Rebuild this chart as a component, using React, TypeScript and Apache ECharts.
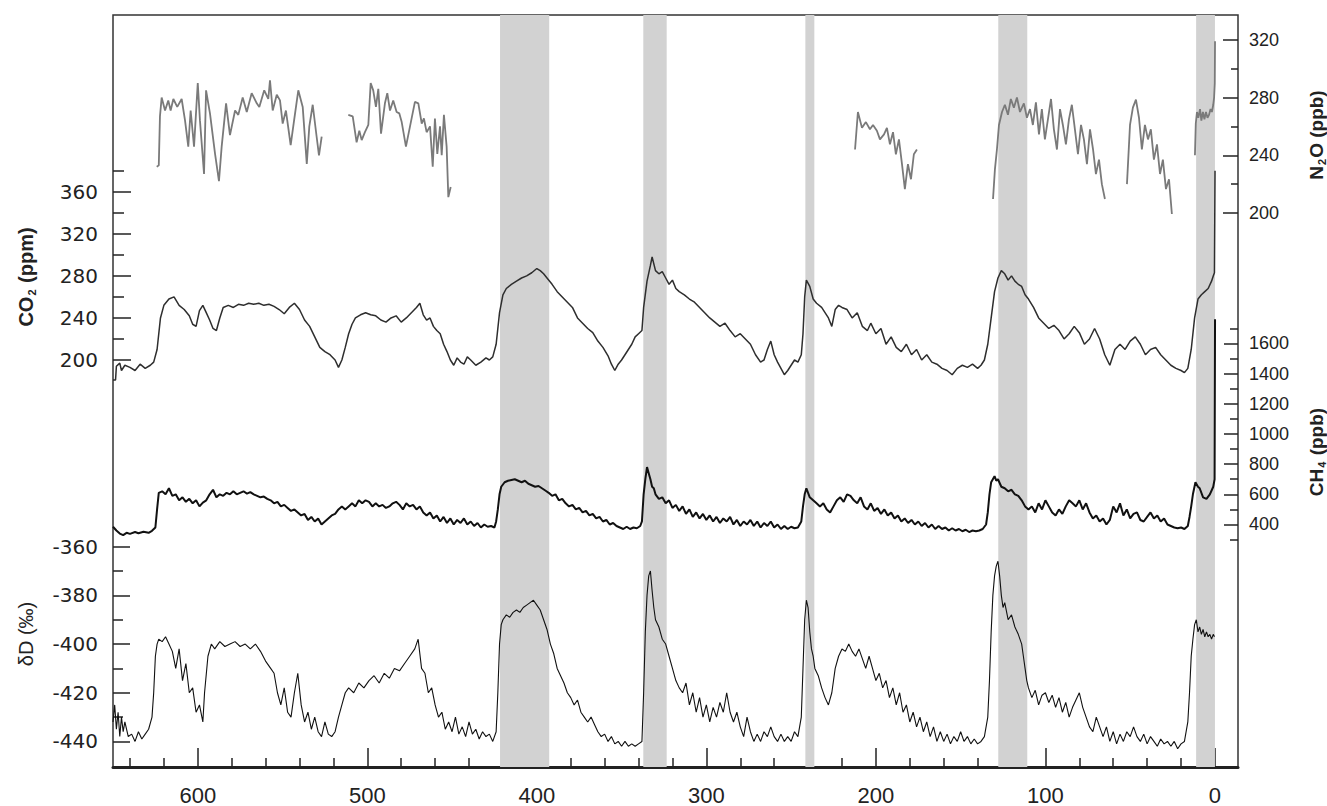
import React, { useEffect, useRef } from "react";
import * as echarts from "echarts";

// ---- tick values ----
const xMajor = [0, 100, 200, 300, 400, 500, 600];
const xMinor = [20, 40, 60, 80, 120, 140, 160, 180, 220, 240, 260, 280, 320, 340, 360, 380, 420, 440, 460, 480, 520, 540, 560, 580, 620, 640];
const co2Major = [200, 240, 280, 320, 360];
const co2Minor = [220, 260, 300, 340, 380];
const dDMajor = [-440, -420, -400, -380, -360];
const dDMinor = [-430, -410, -390, -370];
const n2oMajor = [200, 240, 280, 320];
const n2oMinor = [220, 260, 300];
const ch4Major = [400, 600, 800, 1000, 1200, 1400, 1600];
const ch4Minor = [300, 500, 700, 900, 1100, 1300, 1500, 1700];

// ---- interglacial bands (kyr BP) ----
const bands: [number, number][] = [
  [421.7, 392.7],
  [337.2, 323.4],
  [241.6, 236.3],
  [127.8, 110.7],
  [11.1, 0],
];

// ---- CO2 (ppm) ----
const co2Data: [number, number][] = [
  [650,181],[648.5,181],[648,194],[646,197],[645,190],[643,195],[640,193],[637,190],[634,196],[631,192],[628,195],[626,198],[624,210],[622,240],[620,252],[617,258],[614,260],[611,252],[608,248],[605,242],[603,234],[601,232],[599,247],[597,252],[595,245],[593,238],[591,230],[589,228],[587,240],[585,250],[582,252],[579,250],[576,253],[573,252],[570,254],[567,253],[564,254],[561,252],[558,253],[555,251],[552,248],[549,244],[546,250],[543,254],[540,248],[537,238],[534,232],[531,222],[528,212],[525,208],[522,205],[519,200],[517,193],[515,200],[513,212],[511,225],[509,234],[507,240],[504,243],[501,245],[498,243],[495,242],[492,238],[489,236],[486,240],[483,242],[480,236],[477,240],[474,245],[471,250],[469,254],[467,243],[465,238],[463,240],[461,232],[459,228],[457,225],[455,215],[453,208],[451,200],[449,195],[447,202],[445,198],[443,196],[441,203],[439,200],[436,195],[433,198],[430,202],[428,200],[426,203],[424,215],[422,245],[420,262],[418,268],[415,272],[412,275],[409,278],[406,280],[403,283],[400,287],[398,285],[396,282],[394,278],[391,272],[388,265],[385,260],[382,255],[379,250],[376,240],[373,235],[370,230],[367,226],[364,218],[361,212],[358,204],[356,196],[354,190],[352,196],[350,200],[348,205],[346,210],[344,215],[342,222],[340,225],[338,228],[337,250],[335,275],[333,290],[332,298],[330,285],[328,282],[326,284],[324,278],[322,272],[320,276],[318,268],[316,265],[313,262],[310,258],[307,255],[304,250],[301,245],[298,240],[295,236],[292,232],[289,235],[286,228],[283,222],[280,225],[277,220],[274,215],[271,205],[268,198],[266,200],[264,210],[262,218],[260,205],[258,198],[256,192],[254,186],[252,190],[250,195],[248,200],[246,198],[244,205],[243,225],[242,260],[241,276],[239,270],[237,258],[235,254],[232,250],[230,245],[228,240],[226,232],[224,248],[222,252],[220,250],[217,248],[214,240],[211,245],[208,232],[205,228],[203,235],[200,225],[197,230],[194,215],[191,222],[188,212],[185,208],[182,215],[179,205],[176,210],[173,200],[170,205],[167,198],[164,196],[161,192],[158,190],[155,186],[152,192],[149,195],[146,193],[143,196],[140,192],[138,195],[136,200],[134,215],[132,240],[130,265],[128,278],[126,285],[124,282],[122,276],[120,280],[118,275],[116,272],[114,270],[112,262],[110,258],[107,250],[104,240],[101,235],[98,230],[95,233],[92,228],[89,220],[86,225],[83,232],[80,226],[77,215],[74,220],[71,230],[68,220],[65,205],[62,195],[59,210],[56,215],[53,210],[50,218],[47,222],[44,215],[41,205],[38,210],[35,212],[32,205],[29,200],[26,195],[23,192],[20,190],[18,188],[16,192],[14,210],[12,240],[10,258],[8,262],[6,265],[4,268],[2,275],[1,280],[0.3,283],[-0.05,380]
];

// ---- CH4 (ppb) ----
const ch4Data: [number, number][] = [
  [650,385],[648,360],[646,340],[644,330],[642,345],[640,338],[637,350],[635,342],[632,352],[629,345],[627,358],[625,380],[624,500],[623,610],[621,620],[619,600],[617,640],[615,590],[613,600],[611,560],[609,580],[607,550],[605,570],[603,540],[601,560],[599,520],[597,545],[595,560],[593,600],[591,630],[589,580],[587,600],[585,590],[583,610],[581,600],[579,620],[577,600],[575,610],[573,620],[571,605],[569,615],[567,600],[565,590],[563,580],[561,585],[559,570],[557,560],[555,540],[553,550],[551,520],[549,530],[547,510],[545,490],[543,500],[541,480],[539,460],[537,470],[535,430],[533,450],[531,420],[529,440],[527,400],[525,420],[523,440],[521,460],[519,470],[517,500],[515,520],[513,500],[511,520],[509,540],[507,520],[505,560],[503,540],[501,560],[499,550],[497,520],[495,540],[493,520],[491,530],[489,510],[487,520],[485,540],[483,550],[481,530],[479,500],[477,540],[475,520],[473,530],[471,500],[469,520],[467,480],[465,460],[463,480],[461,440],[459,460],[457,420],[455,450],[453,410],[451,440],[449,400],[447,430],[445,410],[443,440],[441,400],[439,420],[437,390],[435,410],[433,380],[431,400],[429,385],[427,390],[425,380],[424,420],[423,500],[422,600],[421,650],[419,680],[417,690],[415,695],[413,700],[411,690],[409,680],[407,690],[405,670],[403,660],[401,650],[399,655],[397,640],[395,625],[393,610],[391,590],[389,600],[387,560],[385,570],[383,540],[381,520],[379,530],[377,500],[375,510],[373,480],[371,490],[369,460],[367,470],[365,440],[363,450],[361,420],[359,430],[357,400],[355,410],[353,390],[351,380],[349,370],[347,385],[345,370],[343,380],[341,375],[339,390],[338,420],[337,600],[336,700],[335,780],[334,740],[333,700],[332,650],[331,640],[330,600],[328,570],[326,580],[324,540],[322,560],[320,510],[318,530],[316,490],[314,520],[312,470],[310,500],[308,450],[306,480],[304,440],[302,470],[300,430],[298,460],[296,420],[294,450],[292,410],[290,440],[288,420],[286,450],[284,400],[282,430],[280,390],[278,420],[276,400],[274,430],[272,390],[270,420],[268,380],[266,410],[264,390],[262,420],[260,380],[258,400],[256,370],[254,390],[252,370],[250,385],[248,375],[246,380],[244,420],[243,520],[242,600],[241,640],[240,610],[239,580],[237,560],[235,540],[233,520],[231,540],[229,500],[227,480],[225,520],[223,560],[221,580],[219,550],[217,600],[215,590],[213,560],[211,540],[209,580],[207,520],[205,500],[203,540],[201,490],[199,510],[197,470],[195,500],[193,460],[191,480],[189,440],[187,460],[185,420],[183,440],[181,410],[179,430],[177,400],[175,420],[173,390],[171,410],[169,380],[167,400],[165,370],[163,390],[161,370],[159,380],[157,360],[155,375],[153,360],[151,370],[149,355],[147,365],[145,350],[143,360],[141,355],[139,360],[137,370],[135,400],[134,480],[133,600],[132,680],[131,700],[130,720],[129,690],[128,700],[126,650],[124,640],[122,620],[120,630],[118,600],[116,590],[114,560],[112,520],[110,500],[108,520],[106,480],[104,540],[102,500],[100,560],[98,520],[96,480],[94,460],[92,500],[90,470],[88,520],[86,560],[84,540],[82,520],[80,560],[78,500],[76,540],[74,480],[72,440],[70,460],[68,420],[66,440],[64,400],[62,430],[60,520],[58,480],[56,540],[54,460],[52,500],[50,440],[48,470],[46,480],[44,430],[42,420],[40,450],[38,480],[36,440],[34,460],[32,420],[30,440],[28,400],[26,390],[24,380],[22,375],[20,380],[18,370],[16,390],[15,450],[14,520],[13,600],[11.5,680],[10,650],[9,640],[7,580],[5,570],[3,600],[1,650],[0.2,700],[-0.05,1760]
];

// ---- N2O (ppb), separate measured segments ----
const n2oSegA: [number, number][] = [
  [624.2,232],[623.0,233],[622.3,267],[621.3,280],[619.3,271],[617.4,278],[616,271],[614.4,279],[612.1,273.5],[609.5,279],[607.5,264],[605.6,246],[604.2,271],[602.2,246],[600,290],[598.7,264],[596.3,227],[595.1,285],[592.8,269],[589.8,241],[587.5,222],[585.9,246],[583.3,276],[581,254],[578,271],[576.1,268],[573.5,280],[571.1,270],[568.2,283],[565.2,276],[563.7,273.5],[560.8,285],[558.4,279],[557.4,292],[555.8,271],[553.4,282],[551.5,278],[549.9,262],[548,271],[545.2,247],[543.2,264],[540.7,285],[538.1,273.5],[535.7,234],[534.2,260],[532.2,275],[529.9,253],[528.5,240],[526.9,253]
];
const n2oSegB: [number, number][] = [
  [511.2,268],[508.6,267],[506.3,249],[504.7,257],[503.3,250.5],[501.4,256],[499.4,261],[498,290],[496.5,285],[494.9,273.5],[493.5,286],[491.9,255],[489.6,276],[488.2,283],[486.6,271],[484.7,278],[482.7,270],[481.1,269],[479.7,263],[477.2,246],[474.8,260],[471.9,277],[469.9,276],[467.9,262],[466.6,265.5],[465,256],[463,260],[461.4,232],[460.1,265.5],[458.7,241],[457.1,260],[456.1,240],[454.8,268],[453.2,246],[452.2,211],[450.8,218]
];
const n2oSegC: [number, number][] = [
  [212.3,244],[210.6,270],[208.2,259],[205.9,263],[203.5,258],[201.7,261],[199.4,257],[197.6,251],[195.2,254.5],[193.5,259],[191.7,247.6],[189.9,256],[188.2,240.7],[186.4,251],[184.6,233.8],[182.9,216.6],[181.1,233.8],[179.3,223.4],[177.6,240.7],[175.8,244]
];
const n2oSegD: [number, number][] = [
  [130.9,209.7],[129.8,230],[128.6,244],[127.4,261],[125.6,270],[123.9,275],[122.1,268],[120.4,279],[118.6,273],[116.8,280],[115,270],[112.7,276],[110.9,266],[109.1,272],[107.4,261],[105.6,276.6],[103.8,254.5],[102.1,272],[100.3,251],[98.5,265],[96.7,279],[95,258],[93.2,244],[91.4,272],[89.7,261],[87.9,247.6],[86.1,265],[84.4,275],[82.6,258],[80.8,240.7],[79,261],[77.3,251],[75.5,233.8],[73.7,258],[71.9,244],[70.2,227],[68.4,237],[66.7,220],[64.9,209.7]
];
const n2oSegE: [number, number][] = [
  [51.9,220],[50.1,261],[48.4,273],[46.6,278.6],[44.8,266],[43.1,244],[41.3,261],[39.5,251],[37.8,258],[36,237],[34.2,247.6],[32.4,227],[30.7,237],[28.9,216.6],[27.1,223.4],[25.4,199.3]
];
const n2oSegF: [number, number][] = [
  [11.8,240],[11.3,262],[10.6,270],[9.8,266],[8.8,272],[8,264],[7.1,270],[6.2,265],[5.3,270],[4.4,266],[3.5,268],[2.6,272],[1.8,270],[1,275],[0.5,280],[0.1,290],[-0.05,319]
];

// ---- deltaD (permil) ----
const dDData: [number, number][] = [
  [650,-432],[649,-425],[648,-435],[647,-428],[646,-438],[645,-430],[644,-436],[643,-432],[641,-438],[639,-437],[637,-440],[635,-436],[633,-439],[631,-437],[629,-435],[627,-430],[626,-420],[625,-405],[624,-400],[623,-398],[621,-399],[619,-397],[617,-400],[615,-403],[613,-410],[611,-402],[609,-415],[607,-408],[605,-420],[603,-418],[601,-428],[599,-425],[597,-432],[596,-420],[594,-405],[592,-400],[590,-402],[587,-399],[584,-401],[581,-400],[578,-399],[575,-401],[572,-400],[569,-402],[566,-400],[563,-403],[560,-407],[557,-410],[555,-412],[553,-420],[551,-425],[549,-418],[547,-428],[545,-430],[543,-420],[541,-412],[539,-425],[537,-432],[535,-428],[533,-435],[531,-430],[529,-436],[527,-438],[525,-432],[523,-437],[521,-438],[519,-436],[517,-430],[515,-425],[513,-420],[511,-418],[508,-420],[505,-416],[502,-418],[499,-415],[496,-413],[493,-416],[490,-412],[487,-414],[484,-410],[481,-411],[478,-408],[475,-405],[472,-402],[470,-398],[468,-410],[466,-412],[464,-420],[462,-418],[460,-425],[458,-430],[456,-428],[454,-435],[452,-432],[450,-436],[448,-430],[446,-437],[444,-434],[442,-438],[440,-432],[438,-437],[436,-435],[434,-439],[432,-436],[430,-438],[428,-437],[426,-440],[424,-436],[423,-420],[422,-400],[421,-392],[420,-390],[418,-388],[416,-389],[414,-387],[412,-386],[410,-387],[408,-385],[406,-384],[404,-383],[402,-382],[400,-384],[398,-386],[396,-390],[394,-394],[392,-400],[390,-404],[388,-410],[386,-413],[384,-416],[382,-420],[380,-422],[378,-425],[376,-423],[374,-428],[372,-430],[370,-432],[368,-430],[366,-433],[364,-436],[362,-438],[360,-437],[358,-440],[356,-438],[354,-441],[352,-440],[350,-442],[348,-440],[346,-442],[344,-441],[342,-442],[340,-441],[338,-440],[337,-420],[336,-395],[335,-380],[334,-372],[333,-370],[332,-378],[331,-385],[330,-390],[328,-393],[326,-398],[324,-400],[322,-405],[320,-410],[318,-415],[316,-418],[314,-420],[312,-416],[310,-425],[308,-420],[306,-428],[304,-422],[302,-430],[300,-425],[298,-432],[296,-426],[294,-430],[292,-424],[290,-428],[288,-420],[286,-428],[284,-432],[282,-428],[280,-434],[278,-438],[276,-430],[274,-436],[272,-440],[270,-437],[268,-440],[266,-436],[264,-438],[262,-434],[260,-438],[258,-440],[256,-437],[254,-440],[252,-438],[250,-440],[248,-436],[246,-438],[244,-430],[243,-410],[242,-390],[241,-382],[240,-385],[239,-395],[238,-402],[237,-405],[236,-410],[234,-413],[232,-418],[230,-422],[228,-425],[226,-420],[224,-410],[222,-405],[220,-402],[218,-403],[216,-400],[214,-403],[212,-405],[210,-402],[208,-406],[206,-410],[204,-405],[202,-410],[200,-415],[198,-412],[196,-418],[194,-415],[192,-422],[190,-418],[188,-425],[186,-420],[184,-428],[182,-425],[180,-432],[178,-428],[176,-434],[174,-430],[172,-436],[170,-432],[168,-438],[166,-434],[164,-440],[162,-436],[160,-440],[158,-437],[156,-441],[154,-438],[152,-440],[150,-436],[148,-440],[146,-438],[144,-441],[142,-439],[140,-441],[138,-440],[136,-438],[134,-430],[133,-415],[132,-395],[131,-380],[130,-372],[129,-368],[128,-366],[127,-372],[126,-380],[125,-385],[124,-383],[122,-390],[120,-388],[118,-393],[116,-396],[114,-400],[113,-405],[112,-410],[111,-415],[110,-418],[108,-422],[106,-419],[104,-425],[102,-421],[100,-420],[98,-424],[96,-421],[94,-426],[92,-422],[90,-428],[88,-424],[86,-430],[84,-426],[82,-423],[80,-420],[78,-426],[76,-430],[74,-434],[72,-436],[70,-430],[68,-434],[66,-438],[64,-434],[62,-440],[60,-436],[58,-441],[56,-437],[54,-440],[52,-436],[50,-438],[48,-434],[46,-438],[44,-440],[42,-437],[40,-441],[38,-438],[36,-440],[34,-442],[32,-439],[30,-441],[28,-440],[26,-442],[24,-440],[22,-443],[20,-441],[18,-440],[16,-432],[15,-420],[14,-405],[13,-398],[12,-392],[11,-390],[10,-395],[9,-393],[8,-396],[7,-394],[6,-397],[5,-395],[4,-397],[3,-396],[2,-398],[1,-396],[0.3,-397]
];

const FONT = "Liberation Sans, Arial, sans-serif";

function tickAxis(
  kind: "x" | "y",
  pos: string,
  min: number,
  max: number,
  ticks: number[],
  len: number,
  labels: boolean,
  extra: any = {}
) {
  const lineCfg = extra.line || { show: false };
  return {
    type: "value",
    position: pos,
    offset: 0,
    min,
    max,
    inverse: kind === "x",
    splitLine: { show: false },
    axisLine: { onZero: false, ...lineCfg },
    axisTick: {
      show: true,
      inside: true,
      length: len,
      customValues: ticks,
      lineStyle: { color: "#222", width: 1.5 },
    },
    axisLabel: labels
      ? {
          show: true,
          customValues: ticks,
          color: "#222",
          fontFamily: FONT,
          formatter: (v: number) => String(v),
          ...extra.label,
        }
      : { show: false },
  };
}

const lineSeries = (data: [number, number][], yIdx: number, color: string, width: number, z = 3) => ({
  type: "line",
  data,
  xAxisIndex: 0,
  yAxisIndex: yIdx,
  showSymbol: false,
  symbol: "none",
  silent: true,
  z,
  lineStyle: { color, width },
});

export default function App() {
  const ref = useRef<HTMLDivElement>(null);

  useEffect(() => {
    if (!ref.current) return;
    const chart = echarts.init(ref.current, undefined, { renderer: "svg" });
    const n2oColor = "#7a7a7a";
    const subRich = (size: number) => ({
      a: { fontSize: size, fontWeight: "bold", fontFamily: FONT, fill: "#222", lineHeight: 22 },
      s: { fontSize: 11, fontWeight: "bold", fontFamily: FONT, fill: "#222", padding: [12, 1, 0, 1], verticalAlign: "bottom" },
    });
    const option: any = {
      animation: false,
      backgroundColor: "#ffffff",
      grid: {
        left: 113,
        right: 89,
        top: 15,
        bottom: 35.3,
        show: true,
        borderColor: "#333",
        borderWidth: 1.5,
        backgroundColor: "transparent",
      },
      xAxis: [
        tickAxis("x", "bottom", -13.6, 650, xMajor, 19, true, {
          label: { fontSize: 22, margin: 17 },
          line: { show: true, lineStyle: { color: "#222", width: 3 } },
        }),
        tickAxis("x", "bottom", -13.6, 650, xMinor, 9, false),
      ],
      yAxis: [
        tickAxis("y", "left", -187.2, 528.2, co2Major, 18, true, {
          label: { fontSize: 20, margin: 15, fontFamily: "DejaVu Sans" },
        }),
        tickAxis("y", "left", -187.2, 528.2, co2Minor, 11, false),
        tickAxis("y", "left", -450.5, -141.6, dDMajor, 17, true, {
          label: { fontSize: 20, margin: 15, fontFamily: "DejaVu Sans" },
        }),
        tickAxis("y", "left", -450.5, -141.6, dDMinor, 10, false),
        tickAxis("y", "right", -183.9, 337.2, n2oMajor, 15, true, {
          label: { fontSize: 18, margin: 11 },
        }),
        tickAxis("y", "right", -183.9, 337.2, n2oMinor, 7, false),
        tickAxis("y", "right", -1206.8, 3775.8, ch4Major, 14, true, {
          label: { fontSize: 18, margin: 11 },
        }),
        tickAxis("y", "right", -1206.8, 3775.8, ch4Minor, 8, false),
      ],
      series: [
        {
          type: "line",
          data: co2Data,
          xAxisIndex: 0,
          yAxisIndex: 0,
          showSymbol: false,
          symbol: "none",
          silent: true,
          z: 1,
          lineStyle: { opacity: 0 },
          markArea: {
            silent: true,
            itemStyle: { color: "#d2d2d2" },
            data: bands.map((b) => [{ xAxis: b[0] }, { xAxis: b[1] }]),
          },
        },
        lineSeries(n2oSegA, 4, n2oColor, 1.8),
        lineSeries(n2oSegB, 4, n2oColor, 1.8),
        lineSeries(n2oSegC, 4, n2oColor, 1.8),
        lineSeries(n2oSegD, 4, n2oColor, 1.8),
        lineSeries(n2oSegE, 4, n2oColor, 1.8),
        lineSeries(n2oSegF, 4, n2oColor, 1.8),
        lineSeries(co2Data, 0, "#2e2e2e", 1.5),
        lineSeries(ch4Data, 6, "#111111", 2),
        lineSeries(dDData, 2, "#111111", 1.1),
      ],
      graphic: [
        {
          type: "text",
          x: 26,
          y: 277,
          rotation: Math.PI / 2,
          silent: true,
          style: { text: "{a|CO}{s|2}{a| (ppm)}", align: "center", verticalAlign: "middle", fill: "#222", rich: subRich(20) },
        },
        {
          type: "text",
          x: 26,
          y: 634,
          rotation: Math.PI / 2,
          silent: true,
          style: { text: "δD (‰)", align: "center", verticalAlign: "middle", fill: "#222", font: `normal 20px ${FONT}` },
        },
        {
          type: "text",
          x: 1316,
          y: 135,
          rotation: Math.PI / 2,
          silent: true,
          style: { text: "{a|N}{s|2}{a|O (ppb)}", align: "center", verticalAlign: "middle", fill: "#222", rich: subRich(19) },
        },
        {
          type: "text",
          x: 1316,
          y: 452,
          rotation: Math.PI / 2,
          silent: true,
          style: { text: "{a|CH}{s|4}{a| (ppb)}", align: "center", verticalAlign: "middle", fill: "#222", rich: subRich(19) },
        },
      ],
    };
    chart.setOption(option);
    return () => chart.dispose();
  }, []);

  return (
    <div
      ref={ref}
      style={{ position: "fixed", left: 0, top: 0, width: 1327, height: 806, background: "#fff" }}
    />
  );
}
